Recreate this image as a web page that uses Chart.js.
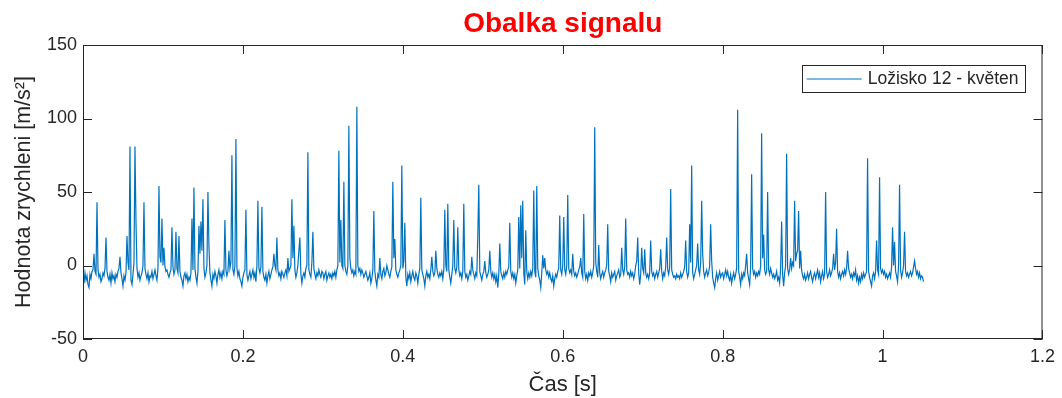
<!DOCTYPE html>
<html>
<head>
<meta charset="utf-8">
<script src="https://cdn.jsdelivr.net/npm/chart.js@4.4.0/dist/chart.umd.min.js"></script>
<style>
  html, body { margin: 0; padding: 0; background: #fff; }
  #wrap { width: 1062px; height: 398px; }
</style>
</head>
<body>
<div id="wrap"><canvas id="c" width="1062" height="398"></canvas></div>
<script>
// envelope samples, one every 1.25 ms starting at t = 0
const sampleStep = 0.00125;
const accel = [
  -8,-12,-5,-10,-7,-13,-15,-6,-9,-4,
  -3,8,-4,-6,43,-3,-8,-6,-11,-9,
  -5,-7,-2,19,-4,-8,-10,-6,-12,-5,
  -9,-7,-11,-6,-8,-4,-2,6,-5,-9,
  -14,-7,-10,-5,20,2,-3,81,-10,-13,
  -6,2,81,30,-2,-8,-5,-10,-7,-5,
  0,43,-2,-6,-9,-5,-11,-7,-8,-4,
  -9,-6,-3,-7,-10,-2,54,6,2,32,
  0,12,-1,-4,-3,-6,-8,-5,-3,26,
  -1,-6,-3,23,-2,-5,20,-4,-8,-10,
  -14,-7,-5,-9,-6,-11,-8,-10,-5,32,
  -3,53,-2,-8,-12,-4,27,8,30,10,
  45,-2,-8,-5,0,50,13,-5,-10,-14,
  -6,-9,-4,-7,-12,-6,-3,-8,-5,-9,
  -4,-6,31,-3,-7,-4,10,-2,2,75,
  -3,-6,0,86,-2,-7,-4,-9,-11,-14,
  -8,-5,-3,38,-6,-10,-7,-4,-9,-6,
  -3,-8,-5,-11,0,44,-2,-5,-1,40,
  -4,-8,-10,-6,-12,-7,-4,-9,-6,-3,
  -1,8,0,-3,19,-3,-7,-5,-9,-4,
  -6,-8,-5,-3,-7,5,-4,-2,0,45,
  5,27,-3,-8,-5,0,10,19,-6,-12,
  -7,-5,-8,-2,0,77,-3,-6,-8,2,
  23,-2,-6,-9,-5,-7,-3,-6,-8,-4,
  -5,-9,-6,-4,-10,-7,-5,-8,-6,-9,
  -5,-7,-4,-8,-3,0,78,2,31,0,
  -2,57,0,-4,-6,0,95,5,-2,-5,
  -3,-7,-4,-6,108,0,-4,-2,-6,-3,
  -5,-8,-6,-4,-7,-10,-8,-5,-12,-9,
  -3,37,-4,-10,-14,-6,-8,5,-6,-9,
  -4,-2,-7,-5,0,-3,-6,-8,-4,-1,
  57,5,18,-3,-6,-8,-5,-3,0,68,
  -2,3,29,-8,-14,-6,-9,-5,-11,-7,
  -4,-8,-10,-5,-7,-12,-6,-2,46,-3,
  -6,-9,-14,-7,-4,-8,-6,-9,-3,6,
  -4,-7,-5,10,-2,-6,-8,-5,-7,-4,
  -9,-3,38,0,-4,42,-3,-8,-12,-6,
  0,31,-2,-5,-1,26,-3,-7,-5,-9,
  -4,42,-4,-8,-6,-10,-7,-4,-6,6,
  -3,-6,-9,-5,-7,20,55,-4,-7,-10,
  -6,-4,3,-5,-8,-6,-3,10,-4,-8,
  -5,-9,-6,-11,-7,-15,-6,15,-4,-7,
  -9,-5,-8,-4,-6,-3,-1,29,-4,-8,
  -5,-9,-6,-12,-7,-3,33,-2,41,5,
  44,-5,-13,24,-4,-9,-5,-8,-4,-7,
  -2,51,-4,-8,54,-2,-7,-10,-15,-5,
  7,-2,5,-3,-6,-4,-8,-5,-9,-11,
  -7,-14,-9,-6,-8,-4,-2,34,-3,-6,
  0,33,-3,-6,0,48,-2,-5,-3,-6,
  8,-4,-7,-5,-8,-6,-3,-1,5,-5,
  -8,35,-4,-9,-6,-10,-5,-7,-4,-8,
  -5,0,94,2,-4,-8,14,-5,-9,-6,
  -4,-8,-5,-3,0,28,-4,-7,-11,-5,
  -8,-6,-4,-10,-7,-5,-3,-8,-6,12,
  -3,-6,-1,32,-3,-6,-5,-8,-4,-7,
  -5,-9,-6,0,3,19,-5,-13,-6,12,
  -2,-5,11,-5,-8,-6,-9,-5,17,-4,
  -7,-5,-9,-6,-4,-8,-5,-2,11,-4,
  -9,-5,-7,-1,19,-3,-6,-1,52,-3,
  -6,-8,-7,-9,-6,-8,-7,-9,-5,-8,
  -6,-4,-1,17,-4,-8,-5,28,2,68,
  -5,-9,-6,-3,0,15,-3,-6,2,44,
  8,-4,-8,-5,-3,-7,-5,0,28,3,
  -8,-12,-15,-9,-5,-10,-7,-4,-8,-6,
  -5,-9,-6,-3,-7,-4,-8,-10,-6,-12,
  -8,-5,-9,-6,-2,106,-4,-8,-13,-6,
  -9,-5,-7,0,8,-5,-9,-13,-1,62,
  -2,-6,-4,-8,-5,-7,-4,-6,0,90,
  5,21,-3,-6,-4,50,-3,-6,-2,-5,
  -8,-6,-9,-7,-4,-10,-8,-12,-2,30,
  -6,-14,-5,0,76,-2,-6,-3,5,-2,
  2,0,44,3,8,10,37,-2,10,-3,
  -7,-9,-6,-10,-8,-5,-9,-6,-4,-8,
  -11,-7,-5,-9,-6,-3,-8,-5,-11,-7,
  -4,-9,-6,50,-4,-8,-6,-3,-7,-5,
  -2,8,-3,2,25,-4,-8,-5,-9,-6,
  -4,-7,-3,-6,-2,10,-2,-5,-8,-6,
  -9,-5,-7,-3,-10,-7,-12,-8,-11,-6,
  -9,-5,-8,-6,-4,73,-4,-8,-11,-14,
  -7,-5,-9,-4,17,-3,-6,60,-2,-5,
  -3,-6,-4,-8,-6,-9,-7,-5,-8,-1,
  26,0,16,-4,-7,-11,0,55,-3,-8,
  -5,0,23,-4,-7,-5,-8,-6,-4,-7,
  -5,-1,3,-2,-6,-4,-8,-5,-9,-7,
  -8,-11
];
const xTicks = [0, 0.2, 0.4, 0.6, 0.8, 1, 1.2];
const yTicks = [-50, 0, 50, 100, 150];
const seriesLabel = 'Ložisko 12 - květen';
const chartTitle = 'Obalka signalu';

const FONT = '"Liberation Sans", Arial, Helvetica, sans-serif';
const AXIS = '#262626';
const BLUE = '#0072BD';

const points = accel.map((v, i) => ({ x: i * sampleStep, y: v }));

// box on all four sides + inward tick marks
const boxTicks = {
  id: 'boxTicks',
  afterDraw(chart) {
    const { ctx, chartArea: a, scales: { x, y } } = chart;
    const len = 9;
    ctx.save();
    ctx.strokeStyle = AXIS;
    ctx.lineWidth = 1;
    ctx.strokeRect(a.left + 0.5, a.top + 0.5, a.right - a.left - 1, a.bottom - a.top - 1);
    ctx.beginPath();
    xTicks.forEach(v => {
      const px = Math.round(x.getPixelForValue(v)) + 0.5;
      ctx.moveTo(px, a.bottom); ctx.lineTo(px, a.bottom - len);
      ctx.moveTo(px, a.top); ctx.lineTo(px, a.top + len);
    });
    yTicks.forEach(v => {
      const py = Math.round(y.getPixelForValue(v)) + 0.5;
      ctx.moveTo(a.left, py); ctx.lineTo(a.left + len, py);
      ctx.moveTo(a.right, py); ctx.lineTo(a.right - len, py);
    });
    ctx.stroke();
    ctx.restore();
  }
};

// MATLAB style legend box inside the axes, top right
const legendBox = {
  id: 'legendBox',
  afterDraw(chart) {
    const { ctx, chartArea: a } = chart;
    ctx.save();
    ctx.font = '17.5px ' + FONT;
    const tw = ctx.measureText(seriesLabel).width;
    const h = 27, lineW = 55;
    const w = 5 + lineW + 6 + tw + 6;
    const right = a.right - 18, top = a.top + 20;
    const left = right - w;
    ctx.fillStyle = '#fff';
    ctx.fillRect(left, top, w, h);
    ctx.strokeStyle = AXIS;
    ctx.lineWidth = 1;
    ctx.strokeRect(Math.round(left) + 0.5, top + 0.5, Math.round(w), h);
    ctx.strokeStyle = BLUE;
    ctx.beginPath();
    ctx.moveTo(left + 5, top + h / 2 + 0.5);
    ctx.lineTo(left + 5 + lineW, top + h / 2 + 0.5);
    ctx.stroke();
    ctx.fillStyle = AXIS;
    ctx.textBaseline = 'middle';
    ctx.fillText(seriesLabel, left + 5 + lineW + 6, top + h / 2 + 1);
    ctx.restore();
  }
};

const titleText = {
  id: 'titleText',
  afterDraw(chart) {
    const { ctx, chartArea: a } = chart;
    ctx.save();
    ctx.font = 'bold 28px ' + FONT;
    ctx.fillStyle = '#FF0000';
    ctx.textAlign = 'center';
    ctx.textBaseline = 'alphabetic';
    ctx.fillText(chartTitle, (a.left + a.right) / 2, 32);
    ctx.restore();
  }
};

new Chart(document.getElementById('c'), {
  type: 'line',
  data: {
    datasets: [{
      label: seriesLabel,
      data: points,
      borderColor: BLUE,
      borderWidth: 1.2,
      pointRadius: 0,
      tension: 0,
      fill: false
    }]
  },
  options: {
    responsive: false,
    animation: false,
    layout: { padding: { left: 0, right: 19, top: 45, bottom: 0 } },
    plugins: {
      legend: { display: false },
      title: { display: false },
      tooltip: { enabled: false }
    },
    scales: {
      x: {
        type: 'linear',
        min: 0,
        max: 1.2,
        afterBuildTicks: s => { s.ticks = xTicks.map(v => ({ value: v })); },
        afterFit: s => { s.height = 59; },
        grid: { display: false, drawTicks: false },
        border: { display: false },
        ticks: {
          color: AXIS,
          font: { family: FONT, size: 18 },
          padding: 7,
          maxRotation: 0,
          callback: v => String(Math.round(v * 10) / 10)
        },
        title: {
          display: true,
          text: 'Čas [s]',
          color: AXIS,
          font: { family: FONT, size: 22 },
          padding: { top: 0, bottom: 0 }
        }
      },
      y: {
        min: -50,
        max: 150,
        afterBuildTicks: s => { s.ticks = yTicks.map(v => ({ value: v })); },
        afterFit: s => { s.width = 83; },
        grid: { display: false, drawTicks: false },
        border: { display: false },
        ticks: {
          color: AXIS,
          font: { family: FONT, size: 18 },
          padding: 6
        },
        title: {
          display: true,
          text: 'Hodnota zrychleni [m/s²]',
          color: AXIS,
          font: { family: FONT, size: 21.5 },
          padding: { top: 11, bottom: 0 }
        }
      }
    }
  },
  plugins: [boxTicks, legendBox, titleText]
});
</script>
</body>
</html>
